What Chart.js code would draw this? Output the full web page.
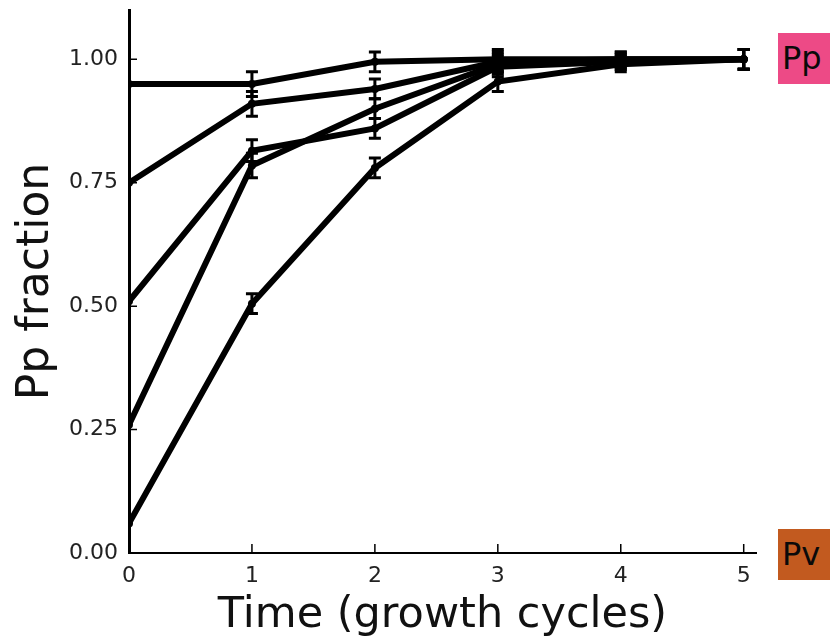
<!DOCTYPE html>
<html>
<head>
<meta charset="utf-8">
<script src="https://cdn.jsdelivr.net/npm/chart.js@4.4.1/dist/chart.umd.min.js"></script>
<style>
    html, body { margin: 0; padding: 0; background: #fff; }
    #wrap { position: relative; width: 830px; height: 642px; }
    .tag {
        position: absolute;
        left: 778px;
        width: 60px;
        height: 51px;
        font-family: "DejaVu Sans", sans-serif;
        font-size: 32px;
        line-height: 51px;
        color: #0a0a0a;
        padding-left: 4px;
        box-sizing: border-box;
    }
</style>
</head>
<body>
<div id="wrap">
    <canvas id="growthChart" width="830" height="642"></canvas>
    <div class="tag" style="top:33px; background:#ed4a86;">Pp</div>
    <div class="tag" style="top:529px; background:#c25a1f;">Pv</div>
</div>
<script>
// Time points (growth cycles)
const times = [0, 1, 2, 3, 4, 5];

// Pp fraction for each starting ratio
const start95 = [0.95, 0.95, 0.995, 1.0, 1.0, 1.0];
const start75 = [0.75, 0.91, 0.94, 0.995, 1.0, 1.0];
const start50 = [0.51, 0.815, 0.86, 0.985, 0.995, 1.0];
const start25 = [0.26, 0.785, 0.90, 0.99, 0.995, 1.0];
const start05 = [0.06, 0.505, 0.78, 0.955, 0.99, 1.0];

// error bars (+/-)
const err95 = [0, 0.025, 0.02, 0.02, 0.015, 0.02];
const err75 = [0, 0.025, 0.02, 0.02, 0.015, 0.02];
const err50 = [0, 0.022, 0.02, 0.02, 0.015, 0.02];
const err25 = [0, 0.025, 0.02, 0.02, 0.015, 0.02];
const err05 = [0, 0.02, 0.02, 0.02, 0.015, 0.02];

const yTicks = [0, 0.25, 0.5, 0.75, 1.0];

const seriesList = [start95, start75, start50, start25, start05];
const errList = [err95, err75, err50, err25, err05];

const FONT = '"DejaVu Sans", sans-serif';

// error bars drawn through the chart scales
const errorBarPlugin = {
    id: 'errorBars',
    afterDatasetsDraw(chart) {
        const ctx = chart.ctx;
        const xs = chart.scales.x;
        const ys = chart.scales.y;
        ctx.save();
        ctx.strokeStyle = '#000';
        ctx.lineWidth = 3;
        seriesList.forEach((vals, i) => {
            vals.forEach((v, j) => {
                const e = errList[i][j];
                if (!e) return;
                const px = xs.getPixelForValue(times[j]);
                const top = ys.getPixelForValue(v + e);
                const bot = ys.getPixelForValue(v - e);
                ctx.beginPath();
                ctx.moveTo(px, top);
                ctx.lineTo(px, bot);
                ctx.moveTo(px - 6, top);
                ctx.lineTo(px + 6, top);
                ctx.moveTo(px - 6, bot);
                ctx.lineTo(px + 6, bot);
                ctx.stroke();
            });
        });
        ctx.restore();
    }
};

// inward tick marks like matplotlib
const innerTicksPlugin = {
    id: 'innerTicks',
    afterDraw(chart) {
        const ctx = chart.ctx;
        const xs = chart.scales.x;
        const ys = chart.scales.y;
        const area = chart.chartArea;
        ctx.save();
        ctx.strokeStyle = '#000';
        ctx.lineWidth = 1.5;
        ctx.beginPath();
        xs.ticks.forEach(t => {
            const px = xs.getPixelForValue(t.value);
            ctx.moveTo(px, area.bottom);
            ctx.lineTo(px, area.bottom - 9);
        });
        ys.ticks.forEach(t => {
            const py = ys.getPixelForValue(t.value);
            ctx.moveTo(area.left, py);
            ctx.lineTo(area.left + 8, py);
        });
        ctx.stroke();
        ctx.restore();
    }
};

const ctx = document.getElementById('growthChart').getContext('2d');

new Chart(ctx, {
    type: 'line',
    data: {
        datasets: seriesList.map(vals => ({
            data: vals.map((v, j) => ({ x: times[j], y: v })),
            borderColor: '#000',
            backgroundColor: '#000',
            borderWidth: 6,
            pointRadius: 4,
            pointBorderWidth: 0,
            pointBackgroundColor: '#000',
            fill: false,
            tension: 0
        }))
    },
    options: {
        responsive: false,
        animation: false,
        layout: {
            padding: { top: 10, right: 74, left: 0, bottom: 0 }
        },
        plugins: {
            legend: { display: false },
            tooltip: { enabled: false }
        },
        scales: {
            x: {
                type: 'linear',
                min: 0,
                max: 5.1,
                ticks: {
                    stepSize: 1,
                    includeBounds: false,
                    padding: 10,
                    color: '#222',
                    font: { family: FONT, size: 22 }
                },
                grid: { drawOnChartArea: false, drawTicks: false },
                border: { color: '#000', width: 2 },
                title: {
                    display: true,
                    text: 'Time (growth cycles)',
                    color: '#111',
                    font: { family: FONT, size: 43 },
                    padding: { top: 0, bottom: 0 }
                },
                afterFit: (scale) => {
                    scale.height = 89;
                    scale.paddingRight = 0;
                }
            },
            y: {
                min: 0,
                max: 1.1,
                afterBuildTicks: (scale) => {
                    scale.ticks = yTicks.map(v => ({ value: v }));
                },
                ticks: {
                    padding: 11,
                    color: '#222',
                    font: { family: FONT, size: 22 },
                    callback: (v) => Number(v).toFixed(2)
                },
                grid: { drawOnChartArea: false, drawTicks: false },
                border: { color: '#000', width: 3 },
                title: {
                    display: true,
                    text: 'Pp fraction',
                    color: '#111',
                    font: { family: FONT, size: 44 },
                    padding: { top: 10, bottom: 0 }
                },
                afterFit: (scale) => {
                    scale.width = 129;
                    scale.paddingTop = 0;
                    scale.paddingBottom = 0;
                }
            }
        }
    },
    plugins: [errorBarPlugin, innerTicksPlugin]
});
</script>
</body>
</html>
